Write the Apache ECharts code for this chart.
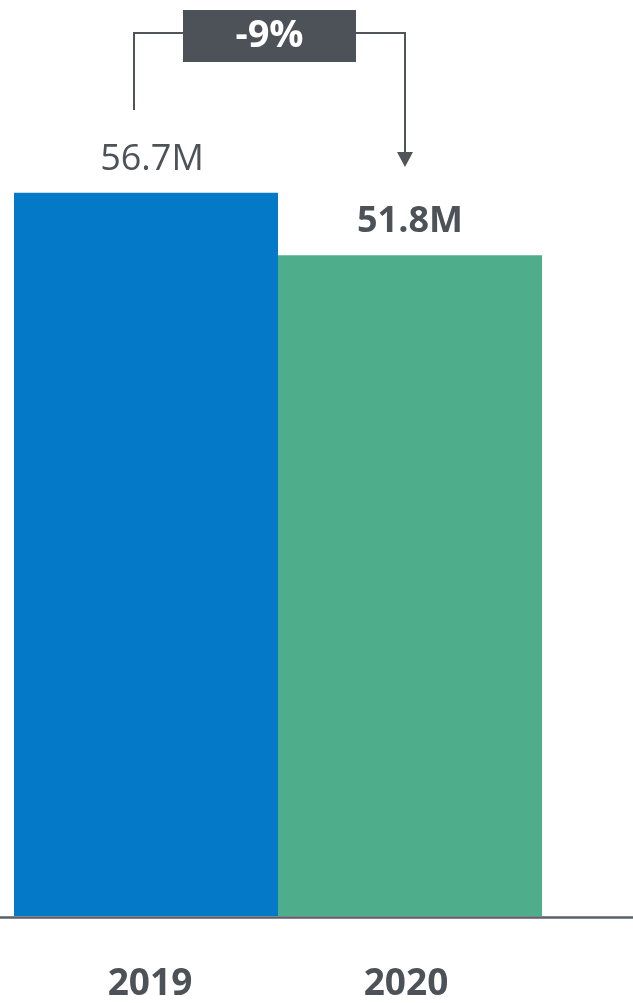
<!DOCTYPE html>
<html>
<head>
<meta charset="utf-8">
<script src="https://cdn.jsdelivr.net/npm/echarts@6/dist/echarts.min.js"></script>
<style>
html,body{margin:0;padding:0;background:#fff;}
#chart{width:633px;height:1003px;}
</style>
</head>
<body>
<div id="chart"></div>
<script>
var categories = ['2019', '2020'];
var values = [56.7, 51.8];
var valueLabels = ['56.7M', '51.8M'];
var changeLabel = '-9%';

var textColor = '#4D5258';
var chart = echarts.init(document.getElementById('chart'), null, {renderer: 'canvas'});

var option = {
  animation: false,
  backgroundColor: '#ffffff',
  grid: [
    {left: 14, right: 91, top: 23, bottom: 86},
    {left: 0, right: 0, top: 23, bottom: 86}
  ],
  xAxis: [
    {
      type: 'category', data: categories, gridIndex: 0,
      axisLine: {show: false}, axisTick: {show: false},
      axisLabel: {
        margin: 50, color: textColor, fontFamily: 'Open Sans',
        fontWeight: 'bold', fontSize: 37,
        formatter: function (v, i) { return i === 0 ? '{a|' + v + '}' : '{b|' + v + '}'; },
        rich: {
          a: {padding: [0, 0, 0, 8], color: textColor, fontFamily: 'Open Sans', fontWeight: 'bold', fontSize: 37},
          b: {padding: [0, 8, 0, 0], color: textColor, fontFamily: 'Open Sans', fontWeight: 'bold', fontSize: 37}
        }
      }
    },
    {
      type: 'value', gridIndex: 1, min: 0, max: 1,
      axisLine: {show: true, onZero: false, lineStyle: {color: '#5A6068', width: 2.5}},
      axisTick: {show: false}, axisLabel: {show: false}, splitLine: {show: false}
    }
  ],
  yAxis: [
    {type: 'value', gridIndex: 0, min: 0, max: 70, show: false, splitLine: {show: false}},
    {type: 'value', gridIndex: 1, min: 0, max: 1, show: false, splitLine: {show: false}}
  ],
  series: [{
    type: 'bar',
    xAxisIndex: 0, yAxisIndex: 0,
    barCategoryGap: 0,
    barWidth: '100%',
    data: values.map(function (v, i) {
      return {
        value: v,
        itemStyle: {color: i === 0 ? '#0479C8' : '#4EAE8B'},
        label: {
          show: true, position: 'top', distance: 15,
          offset: i === 0 ? [6, 0] : [0, 0],
          formatter: valueLabels[i],
          color: textColor, fontFamily: 'Open Sans',
          fontSize: 36, fontWeight: i === 0 ? 'normal' : 'bold'
        }
      };
    })
  }]
};
chart.setOption(option);

// Annotation bracket anchored to the bar positions
var p1 = chart.convertToPixel({xAxisIndex: 0, yAxisIndex: 0}, [0, values[0]]);
var p2 = chart.convertToPixel({xAxisIndex: 0, yAxisIndex: 0}, [1, values[1]]);
var xL = p1[0] - 12;
var xR = p2[0] - 5;
var yTop = 33;
var boxW = 173, boxH = 52;
var mid = (xL + xR) / 2;
var lineStyle = {stroke: '#50555C', lineWidth: 2, fill: null};

chart.setOption({
  graphic: [
    {type: 'polyline', shape: {points: [[xL, 110], [xL, yTop], [mid - boxW / 2, yTop]]}, style: lineStyle},
    {type: 'polyline', shape: {points: [[mid + boxW / 2, yTop], [xR, yTop], [xR, 154]]}, style: lineStyle},
    {type: 'polygon', shape: {points: [[xR - 8, 152], [xR + 8, 152], [xR, 167]]}, style: {fill: '#50555C'}},
    {type: 'rect', shape: {x: mid - boxW / 2, y: 10, width: boxW, height: boxH}, style: {fill: '#4D5258'}},
    {type: 'text', x: mid, y: 36, style: {
      text: changeLabel, fill: '#ffffff', fontFamily: 'Open Sans', fontWeight: 'bold',
      fontSize: 38, align: 'center', verticalAlign: 'middle'
    }}
  ]
});
</script>
</body>
</html>
